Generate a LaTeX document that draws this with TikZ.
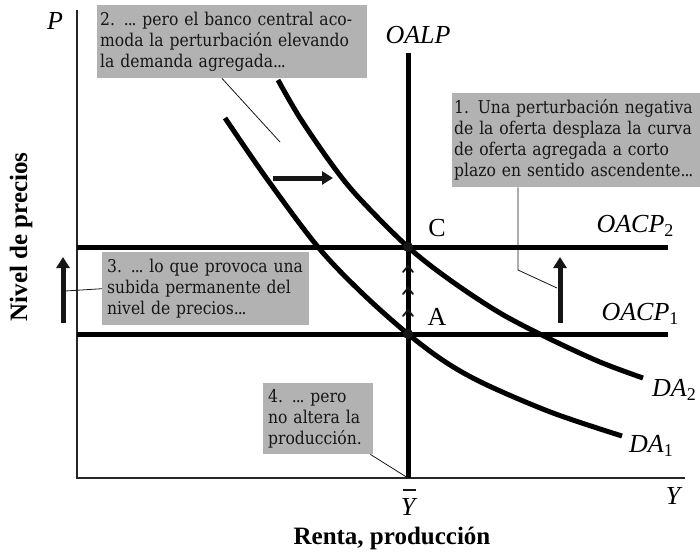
\documentclass[tikz,border=0pt]{standalone}
\usepackage{fontspec}
\setmainfont{Liberation Serif}
\newfontfamily\boxfont{DejaVu Serif}[FakeStretch=0.885]
\usetikzlibrary{arrows.meta}
\definecolor{boxgray}{RGB}{178,178,178}
\definecolor{ink}{RGB}{22,22,22}
\newcommand{\lowidx}[1]{\raisebox{-0.35ex}{\fontsize{18}{18}\selectfont\upshape #1}}
\newcommand{\dts}{.\kern-0.06em.\kern-0.06em.}
\begin{document}
\begin{tikzpicture}[x=1pt,y=-1pt,
  axisline/.style={line width=1.3pt, black!85},
  heavy/.style={line width=5pt, black},
  curve/.style={line width=5pt, black, line cap=butt},
  leader/.style={line width=0.8pt, ink},
  bigarrow/.style={line width=5pt, ink, -{Triangle[length=11pt,width=13pt]}},
  chev/.style={line width=1.8pt, ink, line cap=round},
  callout/.style={fill=boxgray, inner xsep=3pt, inner ysep=0pt, anchor=north west,
    align=left, text=ink, font=\boxfont\fontsize{17.6}{21}\selectfont},
  lbl/.style={font=\fontsize{26}{26}\selectfont\itshape, inner sep=0pt},
  rlbl/.style={font=\fontsize{26}{26}\selectfont, inner sep=0pt},
  title/.style={font=\fontsize{25}{25}\selectfont\bfseries, inner sep=0pt},
  dot/.style={circle, fill=ink, inner sep=0pt, minimum size=10pt}
]
\useasboundingbox (0,0) rectangle (700,552);

% axes
\coordinate (ytop) at (77,10);
\coordinate (O) at (77,478);
\coordinate (xend) at (685,478);
\draw[axisline] (ytop) -- (O) -- (xend);

% OALP
\coordinate (lrtop) at (408,53);
\coordinate (lrfoot) at (408,478);
\draw[heavy] (lrtop) -- (lrfoot);

% OACP lines
\coordinate (s2l) at (77,247); \coordinate (s2r) at (668,247);
\coordinate (s1l) at (77,334); \coordinate (s1r) at (668,334);
\draw[heavy] (s2l) -- (s2r);
\draw[heavy] (s1l) -- (s1r);

% demand curves
\draw[curve] plot[smooth, tension=0.55] coordinates {(225,118) (267,179) (318,247) (362,293) (408,334) (447,363) (487,385) (553,413) (622,436)};
\draw[curve] plot[smooth, tension=0.55] coordinates {(278,80) (300,118) (333,166) (360,199) (408,247) (450,280) (500,313) (550,339) (600,362) (643,378)};

% equilibrium points
\node[dot] (C) at (408,247) {};
\node[dot] (A) at (408,334) {};

% chevrons between A and C
\foreach \yy in {266,288,310}{
  \draw[chev] (403,\yy+6) -- (408,\yy) -- (413,\yy+6);
}

% big arrows
\coordinate (h0) at (273,178); \coordinate (h1) at (333,178);
\draw[bigarrow] (h0) -- (h1);
\coordinate (v0) at (63,323); \coordinate (v1) at (63,257);
\draw[bigarrow] (v0) -- (v1);
\coordinate (w0) at (560,323); \coordinate (w1) at (560,257);
\draw[bigarrow] (w0) -- (w1);

% callouts
\node[callout, text width=264pt, minimum height=73pt] (b2) at (97,5)
  {\mbox{2. \dts\ pero el banco central aco-}\\\mbox{moda la perturbación elevando}\\\mbox{la demanda agregada\dts}};
\node[callout, inner xsep=2pt, text width=244pt, minimum height=94pt] (b1) at (452,93)
  {\mbox{1. Una perturbación negativa}\\\mbox{de la oferta desplaza la curva}\\\mbox{de oferta agregada a corto}\\\mbox{plazo en sentido ascendente\dts}};
\node[callout, inner xsep=5pt, text width=197pt, minimum height=73pt] (b3) at (102,252)
  {\mbox{3. \dts\ lo que provoca una}\\\mbox{subida permanente del}\\\mbox{nivel de precios\dts}};
\node[callout, inner xsep=5pt, text width=100pt, minimum height=71pt] (b4) at (263,383)
  {\mbox{4. \dts\ pero}\\\mbox{no altera la}\\\mbox{producción.}};

% leaders
\coordinate (l2e) at (280,142);
\draw[leader] ([xshift=125pt]b2.south west) -- (l2e);
\coordinate (l1k) at (518,270);
\coordinate (l1e) at (557,288);
\draw[leader] ([xshift=66pt]b1.south west) -- (l1k) -- (l1e);
\coordinate (l3e) at (65,291);
\draw[leader] (l3e) -- (b3.west);
\draw[leader] ([xshift=-3pt]b4.south east) -- (lrfoot);

% labels
\node[lbl] (Plab) at (55,21) {P};
\node[lbl] (OALPlab) at (418,35) {OALP};
\node[lbl] (s2lab) at (635,226) {OACP\lowidx{2}};
\node[lbl] (s1lab) at (640,314) {OACP\lowidx{1}};
\node[lbl] (d2lab) at (674,390) {DA\lowidx{2}};
\node[lbl] (d1lab) at (651,446) {DA\lowidx{1}};
\node[rlbl] (Clab) at (437,228) {C};
\node[rlbl] (Alab) at (437,317) {A};
\node[lbl] (Ybar) at (408,507) {Y};
\coordinate (bar0) at (403,490); \coordinate (bar1) at (416,490);
\draw[line width=1.3pt, ink] (bar0) -- (bar1);
\node[lbl] (Ylab) at (673,496) {Y};
\node[title] (xt) at (392,538) {Renta, producción};
\node[title, rotate=90] (yt) at (21,237) {Nivel de precios};
\end{tikzpicture}
\end{document}
